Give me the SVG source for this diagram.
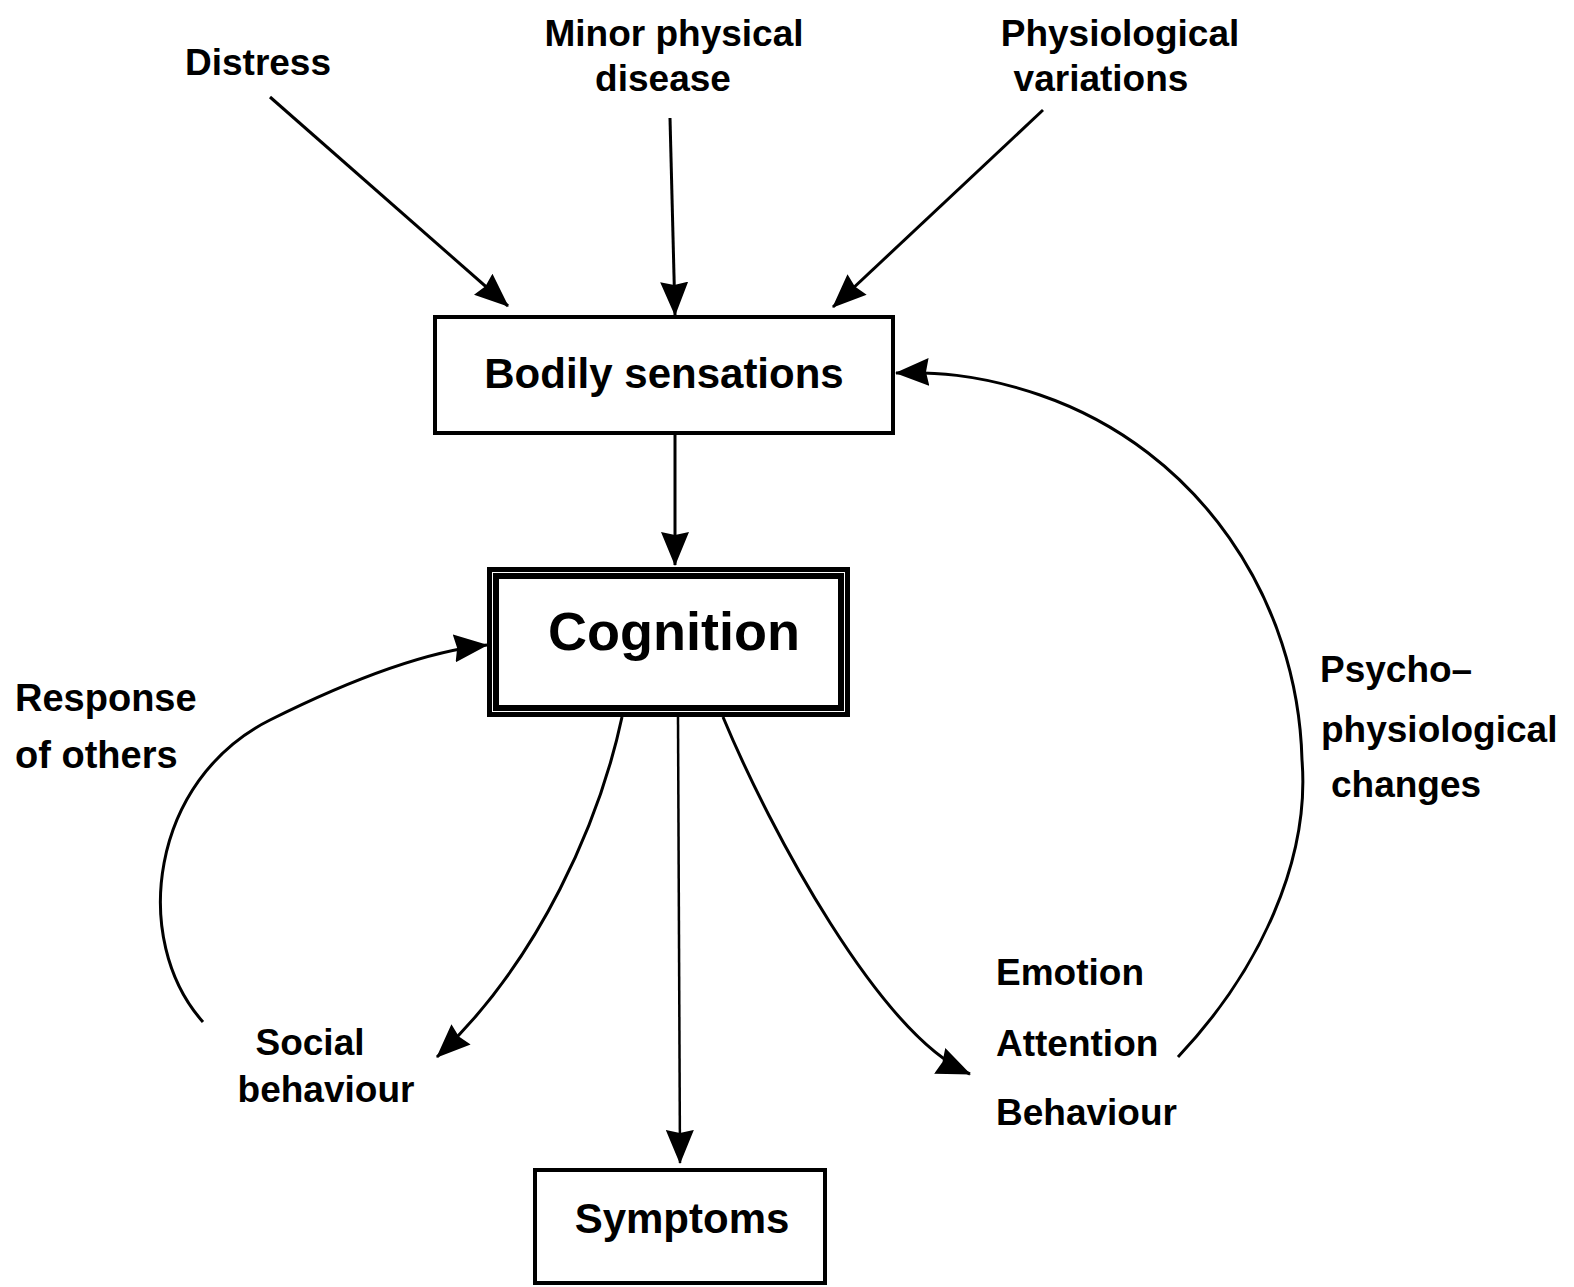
<svg xmlns="http://www.w3.org/2000/svg" width="1574" height="1287" viewBox="0 0 1574 1287">
<style>
  .lbl { font-family: "Liberation Sans", Arial, sans-serif; font-weight: bold; font-size: 37px; fill: #000; }
  .box { fill: #fff; stroke: #000; stroke-width: 4; }
  .boxtxt { font-family: "Liberation Sans", Arial, sans-serif; font-weight: bold; font-size: 42px; fill: #000; text-anchor: middle; }
  .conn { fill: none; stroke: #000; stroke-width: 3; marker-end: url(#ah); }
</style>
<defs>
  <marker id="ah" viewBox="0 0 34 28" refX="33" refY="14" markerWidth="34" markerHeight="28" markerUnits="userSpaceOnUse" orient="auto">
    <path d="M0,0 L34,14 L0,28 L3,14 z" fill="#000"/>
  </marker>
</defs>
<rect width="1574" height="1287" fill="#fff"/>

<g id="connectors">
  <path class="conn" d="M270,97 L508,306"/>
  <path class="conn" d="M670,118 L675,315"/>
  <path class="conn" d="M1043,110 L833,307"/>
  <path class="conn" d="M675,435 L675,565"/>
  <path class="conn" style="stroke-width:2.5" d="M678,717 L680,1163"/>
  <path class="conn" d="M622,717 C600,820 540,960 437,1057"/>
  <path class="conn" d="M723,717 C770,830 880,1035 970,1074"/>
  <path class="conn" d="M1178,1057 C1260,970 1310,860 1302,760 C1298,600 1200,450 1040,395 C976,373 930,372 896,373"/>
  <path class="conn" d="M203,1022 C130,940 150,780 270,720 C342,684 420,652 487,645"/>
</g>

<g id="distress"><text class="lbl" x="258" y="75" text-anchor="middle">Distress</text></g>
<g id="minor-physical-disease">
  <text class="lbl" x="674" y="46" text-anchor="middle">Minor physical</text>
  <text class="lbl" x="663" y="91" text-anchor="middle">disease</text>
</g>
<g id="physiological-variations">
  <text class="lbl" x="1120" y="46" text-anchor="middle">Physiological</text>
  <text class="lbl" x="1101" y="91" text-anchor="middle">variations</text>
</g>

<g id="bodily-sensations">
  <rect class="box" x="435" y="317" width="458" height="116"/>
  <text class="boxtxt" x="664" y="388">Bodily sensations</text>
</g>

<g id="cognition">
  <rect x="489.5" y="569.5" width="358" height="145" fill="#fff" stroke="#000" stroke-width="5"/>
  <rect x="496" y="576" width="345" height="132" fill="none" stroke="#000" stroke-width="6"/>
  <text class="boxtxt" x="674" y="650" style="font-size:54px">Cognition</text>
</g>

<g id="symptoms">
  <rect class="box" x="535" y="1170" width="290" height="113"/>
  <text class="boxtxt" x="682" y="1233">Symptoms</text>
</g>

<g id="response-of-others">
  <text class="lbl" x="15" y="711" style="font-size:38px">Response</text>
  <text class="lbl" x="15" y="768" style="font-size:38px">of others</text>
</g>

<g id="social-behaviour">
  <text class="lbl" x="310" y="1055" text-anchor="middle">Social</text>
  <text class="lbl" x="326" y="1102" text-anchor="middle">behaviour</text>
</g>

<g id="emotion-attention-behaviour">
  <text class="lbl" x="996" y="985">Emotion</text>
  <text class="lbl" x="996" y="1056">Attention</text>
  <text class="lbl" x="996" y="1125">Behaviour</text>
</g>

<g id="psychophysiological-changes">
  <text class="lbl" x="1320" y="682">Psycho–</text>
  <text class="lbl" x="1321" y="742">physiological</text>
  <text class="lbl" x="1331" y="797">changes</text>
</g>
</svg>
